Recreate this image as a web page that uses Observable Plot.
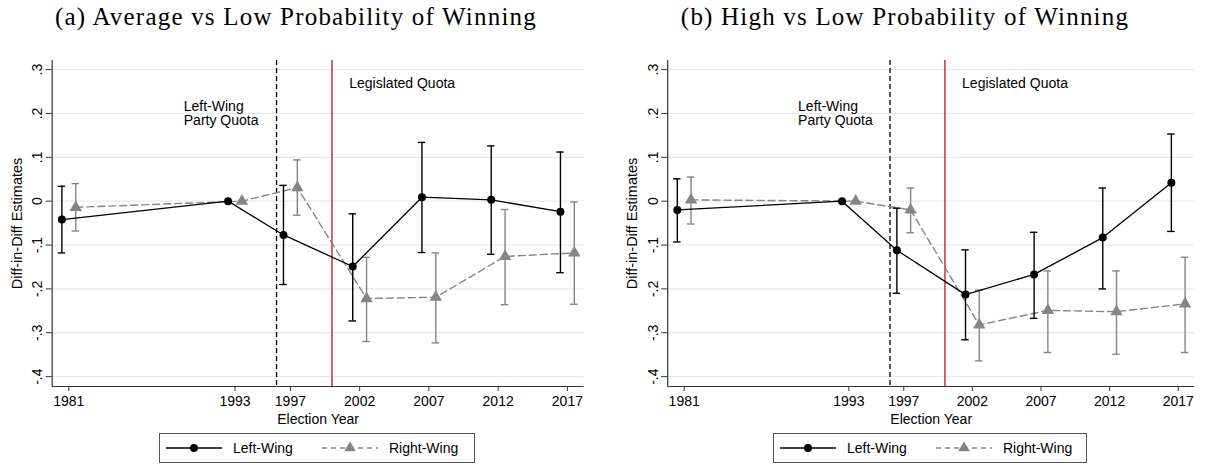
<!DOCTYPE html>
<html><head><meta charset="utf-8">
<script src="https://cdn.jsdelivr.net/npm/d3@7"></script>
<script src="https://cdn.jsdelivr.net/npm/@observablehq/plot@0.6"></script>
<style>
html,body{margin:0;padding:0;background:#fff;overflow:hidden;}
#root{position:relative;width:1205px;height:467px;font-family:"Liberation Sans",Arial,sans-serif;}
.title{position:absolute;top:2px;width:600px;text-align:center;font-family:"Liberation Serif",serif;font-size:25px;letter-spacing:1.2px;line-height:30px;color:#000;white-space:nowrap;}
.panel{position:absolute;top:40px;}
.legend{position:absolute;top:433px;height:30px;border:1px solid #555;box-sizing:border-box;background:#fff;}
.legend svg{display:block;}
</style></head><body><div id="root"></div>
<script>
// ---- data ----
const years = [1981, 1993, 1997, 2002, 2007, 2012, 2017];
const xTicks = [1981, 1993, 1997, 2002, 2007, 2012, 2017];
const yTicks = [-0.4, -0.3, -0.2, -0.1, 0, 0.1, 0.2, 0.3];
const yTickLabels = ["-.4", "-.3", "-.2", "-.1", "0", ".1", ".2", ".3"];
const xDomain = [1979.8, 2018.2];
const yDomain = [-0.4225, 0.3207];
const quotaYears = [1996, 2000];
const titles = ["(a) Average vs Low Probability of Winning", "(b) High vs Low Probability of Winning"];
const seriesNames = ["Left-Wing", "Right-Wing"];
const xLabel = "Election Year";
const yLabel = "Diff-in-Diff Estimates";
const noteParty = "Left-Wing\nParty Quota";
const noteLegis = "Legislated Quota";

// Panel (a): Average vs Low
const leftA_est = [-0.042, 0, -0.077, -0.149, 0.009, 0.003, -0.024];
const leftA_lo  = [-0.118, null, -0.190, -0.273, -0.117, -0.121, -0.163];
const leftA_hi  = [0.034, null, 0.036, -0.029, 0.134, 0.126, 0.112];
const rightA_est = [-0.014, 0, 0.031, -0.222, -0.219, -0.126, -0.118];
const rightA_lo  = [-0.068, null, -0.032, -0.320, -0.323, -0.236, -0.235];
const rightA_hi  = [0.040, null, 0.094, -0.128, -0.118, -0.019, -0.002];

// Panel (b): High vs Low
const leftB_est = [-0.020, 0, -0.112, -0.213, -0.167, -0.083, 0.042];
const leftB_lo  = [-0.093, null, -0.210, -0.316, -0.267, -0.200, -0.069];
const leftB_hi  = [0.051, null, -0.016, -0.111, -0.071, 0.030, 0.153];
const rightB_est = [0.003, 0, -0.020, -0.282, -0.249, -0.252, -0.234];
const rightB_lo  = [-0.052, null, -0.072, -0.364, -0.345, -0.349, -0.345];
const rightB_hi  = [0.055, null, 0.030, -0.203, -0.159, -0.159, -0.128];

// ---- styles ----
const BLACK = "#000";
const GRAY = "#858585";
const RED = "#d2455f";
const GRID = "#e2eced";
const OFF = 0.5;   // horizontal dodge (years)
const CAP = 0.27;  // cap half-width (years)

function series(est, lo, hi, off) {
  return years.map((year, i) => ({year, x: year + off, est: est[i], lo: lo[i], hi: hi[i]}));
}

function errorMarks(data, stroke) {
  const d = data.filter(v => v.lo != null);
  return [
    Plot.ruleX(d, {x: "x", y1: "lo", y2: "hi", stroke, strokeWidth: 1.4}),
    Plot.ruleY(d, {x1: v => v.x - CAP, x2: v => v.x + CAP, y: "lo", stroke, strokeWidth: 1.4}),
    Plot.ruleY(d, {x1: v => v.x - CAP, x2: v => v.x + CAP, y: "hi", stroke, strokeWidth: 1.4})
  ];
}

function panel(cfg) {
  const L = series(cfg.le, cfg.ll, cfg.lh, -OFF);
  const R = series(cfg.re, cfg.rl, cfg.rh, OFF);
  return Plot.plot({
    width: cfg.width, height: 390,
    marginLeft: cfg.ml, marginRight: cfg.mr, marginTop: 20, marginBottom: 44,
    x: {domain: xDomain},
    y: {domain: yDomain},
    style: {fontFamily: "'Liberation Sans', Arial, sans-serif", fontSize: "14px", color: "#000", background: "#fff", overflow: "visible"},
    marks: [
      Plot.ruleY(yTicks, {stroke: GRID, strokeWidth: 1.3}),
      Plot.ruleX(quotaYears.slice(0, 1), {stroke: BLACK, strokeDasharray: "5,3", strokeWidth: 1.3}),
      Plot.ruleX(quotaYears.slice(1, 2), {stroke: RED, strokeWidth: 1.7}),
      Plot.ruleX(xDomain.slice(0, 1), {stroke: "#333", strokeWidth: 1.2}),
      Plot.ruleY(yDomain.slice(0, 1), {stroke: "#333", strokeWidth: 1.2}),
      ...errorMarks(R, GRAY),
      Plot.line(R, {x: "x", y: "est", stroke: GRAY, strokeWidth: 1.4, strokeDasharray: "7,4"}),
      Plot.dot(R, {x: "x", y: "est", symbol: "triangle", r: 4.6, fill: GRAY, stroke: "none"}),
      ...errorMarks(L, BLACK),
      Plot.line(L, {x: "x", y: "est", stroke: BLACK, strokeWidth: 1.3}),
      Plot.dot(L, {x: "x", y: "est", r: 4, fill: BLACK, stroke: "none"}),
      Plot.text([noteParty], {x: 1989.3, y: 0.2, text: d => d, textAnchor: "start", lineAnchor: "middle", lineHeight: 1.0, fontSize: 14, fill: "#000"}),
      Plot.text([noteLegis], {x: 2001.25, y: 0.2676, text: d => d, textAnchor: "start", lineAnchor: "middle", fontSize: 14, fill: "#000"}),
      Plot.axisX({ticks: xTicks, tickSize: 5, tickPadding: 5, tickFormat: d => String(d), label: null, fontSize: 14, stroke: "#333"}),
      Plot.axisY({ticks: yTicks, tickSize: 6, tickPadding: 4, tickRotate: -90, tickFormat: d => yTickLabels[yTicks.indexOf(d)], label: null, fontSize: 14, stroke: "#333"}),
      Plot.text([xLabel], {frameAnchor: "bottom", dy: 33, text: d => d, lineAnchor: "middle", fontSize: 14}),
      Plot.text([yLabel], {frameAnchor: "left", dx: -35, rotate: -90, text: d => d, lineAnchor: "middle", textAnchor: "middle", fontSize: 14.5})
    ]
  });
}

function legend(width) {
  const ns = "http://www.w3.org/2000/svg";
  const svg = d3.create("svg").attr("width", width - 2).attr("height", 28)
    .style("font-family", "'Liberation Sans', Arial, sans-serif").style("font-size", "14px");
  const cy = 14;
  svg.append("line").attr("x1", 6).attr("x2", 62).attr("y1", cy).attr("y2", cy).attr("stroke", BLACK).attr("stroke-width", 1.3);
  svg.append("circle").attr("cx", 34).attr("cy", cy).attr("r", 4).attr("fill", BLACK);
  svg.append("text").attr("x", 73).attr("y", cy).attr("dy", "0.35em").text(seriesNames[0]);
  svg.append("line").attr("x1", 162).attr("x2", 218).attr("y1", cy).attr("y2", cy).attr("stroke", GRAY).attr("stroke-width", 1.3).attr("stroke-dasharray", "5,4");
  svg.append("path").attr("d", d3.symbol(d3.symbolTriangle, 58)()).attr("transform", `translate(190,${cy})`).attr("fill", GRAY);
  svg.append("text").attr("x", 229).attr("y", cy).attr("dy", "0.35em").text(seriesNames[1]);
  return svg.node();
}

const root = document.getElementById("root");
function add(el, css, cls) { const d = document.createElement("div"); if (cls) d.className = cls; Object.assign(d.style, css); if (el) d.appendChild(el); root.appendChild(d); return d; }

const tA = add(null, {left: "-4px"}, "title"); tA.textContent = titles[0];
const tB = add(null, {left: "605px"}, "title"); tB.textContent = titles[1];

add(panel({width: 600, ml: 51.7, mr: 16.5, le: leftA_est, ll: leftA_lo, lh: leftA_hi, re: rightA_est, rl: rightA_lo, rh: rightA_hi}), {left: "0px"}, "panel");
add(panel({width: 605, ml: 67.2, mr: 10.8, le: leftB_est, ll: leftB_lo, lh: leftB_hi, re: rightB_est, rl: rightB_lo, rh: rightB_hi}), {left: "600px"}, "panel");

add(legend(316), {left: "159px", width: "316px"}, "legend");
add(legend(314), {left: "773px", width: "314px"}, "legend");
</script>
</body></html>
